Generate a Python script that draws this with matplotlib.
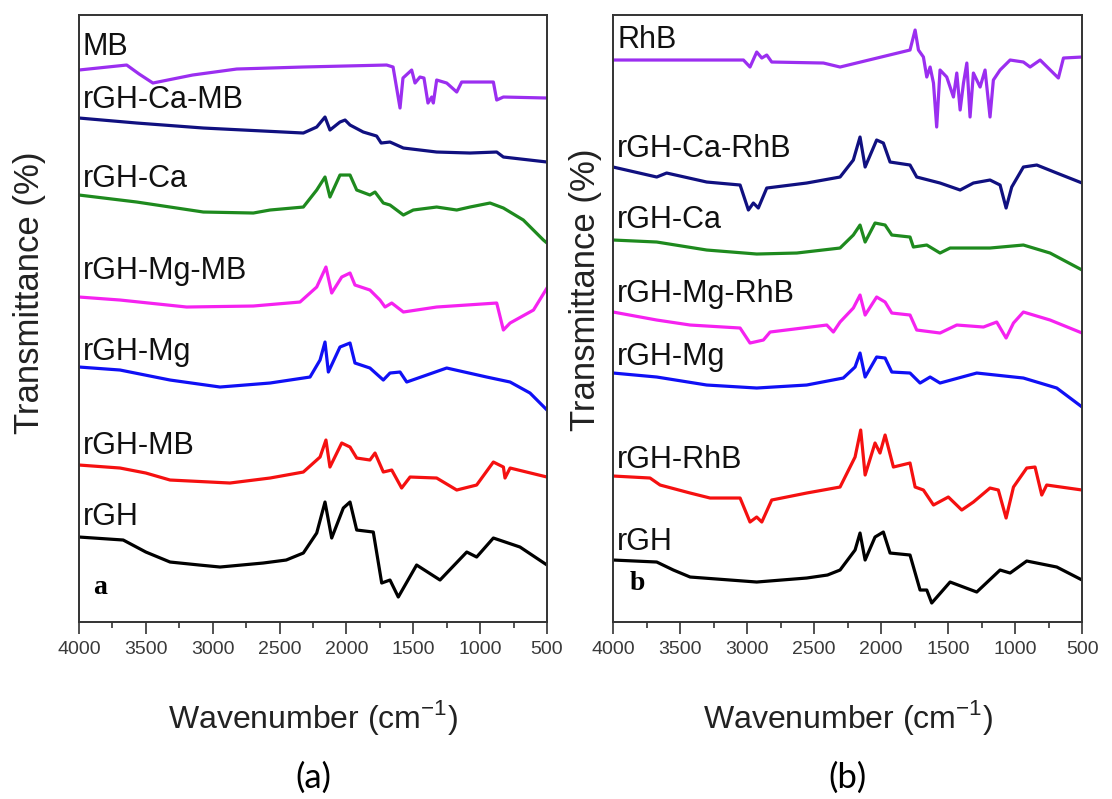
import matplotlib
matplotlib.use("Agg")
import matplotlib.pyplot as plt
import matplotlib.ticker as mticker

# ── data: wavenumber (cm-1) and offset transmittance (a.u.) ──────────────────
# panel (a) - MB series
mb_w = [4000, 3643, 3550, 3447, 3150, 2820, 2325, 1699, 1651, 1599, 1577, 1512, 1487, 1450,
        1420, 1390, 1362, 1350, 1325, 1250, 1175, 1138, 901, 876, 826, 500]
mb_t = [552, 557, 548, 539, 547, 553, 555, 557, 555, 514, 544, 552, 539, 545,
        544, 519, 525, 519, 542, 539, 530, 540, 540, 522, 525, 524]

ca_mb_w = [4000, 3568, 3070, 2322, 2222, 2160, 2123, 2048, 2010, 1973, 1874, 1774, 1740,
           1674, 1574, 1325, 1076, 876, 826, 500]
ca_mb_t = [504, 499, 494, 489, 495, 505, 492, 500, 502, 497, 490, 486, 479,
           480, 474, 470, 469, 470, 465, 460]

ca_a_w = [4000, 3568, 3070, 2696, 2571, 2322, 2222, 2160, 2123, 2048, 1973, 1923, 1824,
          1786, 1724, 1674, 1574, 1500, 1325, 1175, 1076, 926, 826, 677, 527, 500]
ca_a_t = [427, 420, 410, 409, 412, 415, 432, 445, 425, 447, 447, 432, 427,
          430, 419, 417, 407, 412, 415, 412, 415, 419, 414, 402, 382, 379]

mg_mb_w = [4000, 3693, 3195, 2696, 2347, 2222, 2153, 2110, 2035, 1973, 1936, 1824, 1749,
           1711, 1661, 1574, 1325, 876, 826, 776, 601, 500]
mg_mb_t = [325, 322, 315, 316, 320, 335, 355, 329, 345, 349, 337, 332, 322,
           315, 319, 310, 315, 319, 292, 299, 312, 334]

mg_a_w = [4000, 3693, 3319, 2945, 2571, 2272, 2197, 2160, 2135, 2048, 1973, 1936, 1824,
          1724, 1674, 1599, 1549, 1250, 951, 776, 627, 500]
mg_a_t = [255, 252, 242, 235, 239, 245, 262, 280, 250, 275, 279, 259, 254,
          242, 249, 250, 240, 254, 245, 240, 229, 212]

rgh_mb_w = [4000, 3693, 3500, 3319, 2871, 2571, 2322, 2197, 2153, 2123, 2035, 1973, 1923,
            1824, 1786, 1724, 1661, 1587, 1524, 1325, 1175, 1026, 901, 826, 814, 776, 500]
rgh_mb_t = [157, 154, 149, 142, 139, 144, 150, 165, 182, 155, 179, 175, 164,
            162, 169, 150, 152, 134, 145, 144, 132, 137, 160, 155, 144, 154, 145]

rgh_a_w = [4000, 3669, 3500, 3319, 3100, 2945, 2622, 2450, 2322, 2222, 2160, 2110, 2023,
           1973, 1923, 1799, 1736, 1674, 1612, 1475, 1300, 1100, 1026, 901, 702, 500]
rgh_a_t = [85, 82, 70, 60, 57, 55, 59, 62, 69, 89, 120, 84, 114,
           120, 92, 90, 39, 42, 25, 57, 42, 70, 65, 84, 75, 57]

# panel (b) - RhB series
rhb_w = [4000, 3027, 2978, 2928, 2890, 2853, 2816, 2430, 2306, 1784, 1746, 1721, 1684,
         1659, 1634, 1609, 1585, 1560, 1510, 1460, 1435, 1410, 1385, 1360, 1336, 1311,
         1261, 1224, 1187, 1162, 1112, 1037, 938, 888, 813, 677, 639, 500]
rhb_t = [562, 562, 555, 570, 564, 567, 560, 559, 555, 572, 592, 572, 565,
         545, 555, 539, 495, 552, 545, 525, 549, 512, 539, 559, 505, 549,
         535, 552, 505, 542, 552, 562, 560, 555, 562, 544, 564, 565]

ca_rhb_w = [4000, 3674, 3600, 3301, 3052, 2990, 2953, 2916, 2853, 2555, 2306, 2207, 2157,
            2119, 2033, 1983, 1933, 1784, 1734, 1560, 1410, 1311, 1187, 1112, 1067, 1025,
            938, 838, 689, 500]
ca_rhb_t = [455, 445, 449, 440, 437, 412, 419, 414, 434, 439, 445, 462, 485,
            455, 482, 479, 460, 457, 445, 439, 432, 439, 442, 437, 414, 435,
            455, 457, 449, 439]

ca_b_w = [4000, 3674, 3301, 2928, 2629, 2306, 2207, 2157, 2119, 2045, 1970, 1920, 1784,
          1759, 1659, 1560, 1485, 1187, 938, 739, 500]
ca_b_t = [382, 380, 372, 368, 369, 374, 387, 397, 380, 399, 397, 387, 385,
          375, 377, 369, 374, 374, 377, 369, 352]

mg_rhb_w = [4000, 3674, 3425, 3052, 2978, 2878, 2828, 2405, 2356, 2306, 2207, 2157, 2119,
            2033, 1970, 1920, 1784, 1734, 1560, 1435, 1236, 1137, 1067, 1012, 938, 739, 500]
mg_rhb_t = [310, 302, 297, 294, 279, 282, 290, 297, 290, 300, 314, 327, 307,
            325, 320, 309, 307, 292, 289, 297, 295, 300, 284, 299, 310, 302, 289]

mg_b_w = [4000, 3674, 3301, 2928, 2555, 2282, 2194, 2157, 2119, 2033, 1970, 1920, 1784,
          1709, 1634, 1560, 1286, 938, 689, 500]
mg_b_t = [249, 245, 237, 234, 237, 244, 255, 269, 245, 265, 264, 250, 249,
          239, 245, 239, 249, 244, 234, 215]

rgh_rhb_w = [4000, 3724, 3649, 3425, 3276, 3052, 2978, 2928, 2890, 2816, 2555, 2306, 2194,
             2152, 2119, 2045, 2008, 1970, 1908, 1784, 1746, 1684, 1609, 1498, 1398, 1311,
             1187, 1125, 1067, 1012, 913, 851, 801, 764, 500]
rgh_rhb_t = [146, 144, 137, 129, 124, 124, 100, 105, 100, 122, 129, 135, 165,
             192, 147, 179, 169, 187, 155, 159, 135, 132, 117, 125, 112, 120,
             134, 132, 104, 135, 154, 155, 127, 137, 132]

rgh_b_w = [4000, 3674, 3550, 3425, 2928, 2555, 2400, 2306, 2194, 2157, 2119, 2045, 1983,
           1933, 1784, 1709, 1659, 1622, 1485, 1286, 1112, 1037, 913, 689, 500]
rgh_b_t = [62, 60, 52, 45, 40, 44, 47, 52, 72, 89, 62, 85, 90,
           69, 67, 32, 32, 19, 40, 30, 52, 49, 61, 55, 42]

# (label, wavenumbers, transmittance, colour, label height)
PANEL_A = [
    ("MB",         mb_w,     mb_t,     "#9B2EF0", 567),
    ("rGH-Ca-MB",  ca_mb_w,  ca_mb_t,  "#101080", 514),
    ("rGH-Ca",     ca_a_w,   ca_a_t,   "#1E8A1E", 435),
    ("rGH-Mg-MB",  mg_mb_w,  mg_mb_t,  "#F522F0", 343),
    ("rGH-Mg",     mg_a_w,   mg_a_t,   "#1010F5", 262),
    ("rGH-MB",     rgh_mb_w, rgh_mb_t, "#F51010", 168),
    ("rGH",        rgh_a_w,  rgh_a_t,  "#000000", 97),
]
PANEL_B = [
    ("RhB",         rhb_w,     rhb_t,     "#9B2EF0", 574),
    ("rGH-Ca-RhB",  ca_rhb_w,  ca_rhb_t,  "#101080", 465),
    ("rGH-Ca",      ca_b_w,    ca_b_t,    "#1E8A1E", 394),
    ("rGH-Mg-RhB",  mg_rhb_w,  mg_rhb_t,  "#F522F0", 320),
    ("rGH-Mg",      mg_b_w,    mg_b_t,    "#1010F5", 257),
    ("rGH-RhB",     rgh_rhb_w, rgh_rhb_t, "#F51010", 154),
    ("rGH",         rgh_b_w,   rgh_b_t,   "#000000", 72),
]

TICKS = [4000, 3500, 3000, 2500, 2000, 1500, 1000, 500]
AXIS_GREY = "#333333"

plt.rcParams["font.family"] = ["Liberation Sans", "DejaVu Sans"]

fig = plt.figure(figsize=(11.12, 7.99), dpi=100)
ax_a = fig.add_axes([0.0710, 0.2215, 0.4209, 0.7597])
ax_b = fig.add_axes([0.5513, 0.2215, 0.4218, 0.7597])


def draw_panel(ax, series, letter, letter_w, letter_y, ylab_x, ylab_y):
    for name, w, t, color, label_y in series:
        ax.plot(w, t, color=color, linewidth=2.3, solid_joinstyle="round")
        ax.text(3970, label_y, name, fontsize=22, color="#111111",
                ha="left", va="baseline")

    ax.text(letter_w, letter_y, letter, fontsize=20, fontweight="bold",
            family="Liberation Serif", ha="left", va="baseline")

    ax.set_xlim(4000, 500)
    ax.set_ylim(0, 607)
    ax.set_xticks(TICKS)
    ax.xaxis.set_minor_locator(mticker.MultipleLocator(250))
    ax.set_yticks([])
    ax.tick_params(axis="x", which="major", direction="out", length=8.5,
                   width=1.2, color=AXIS_GREY, labelsize=14,
                   labelcolor="#3a3a3a", pad=5)
    ax.tick_params(axis="x", which="minor", direction="out", length=4.5,
                   width=1.2, color=AXIS_GREY)
    for sp in ax.spines.values():
        sp.set_color(AXIS_GREY)
        sp.set_linewidth(1.4)

    ax.set_xlabel("Wavenumber (cm$^{\\mathregular{-1}}$)", fontsize=23,
                  color="#222222")
    ax.xaxis.set_label_coords(0.5, -0.157)
    ax.xaxis.label.set_va("center")
    ax.set_ylabel("Transmittance (%)", fontsize=25, color="#222222")
    ax.yaxis.set_label_coords(ylab_x, ylab_y)
    ax.yaxis.label.set_va("center")


draw_panel(ax_a, PANEL_A, "a", 3895, 28, -0.1047, 0.542)
draw_panel(ax_b, PANEL_B, "b", 3873, 32, -0.0597, 0.547)

fig.text(313 / 1112, 1 - 778 / 799, "(a)", fontsize=25, family="Lato",
         ha="center", va="center")
fig.text(848 / 1112, 1 - 778 / 799, "(b)", fontsize=25, family="Lato",
         ha="center", va="center")

fig.savefig("out.png", dpi=100)
